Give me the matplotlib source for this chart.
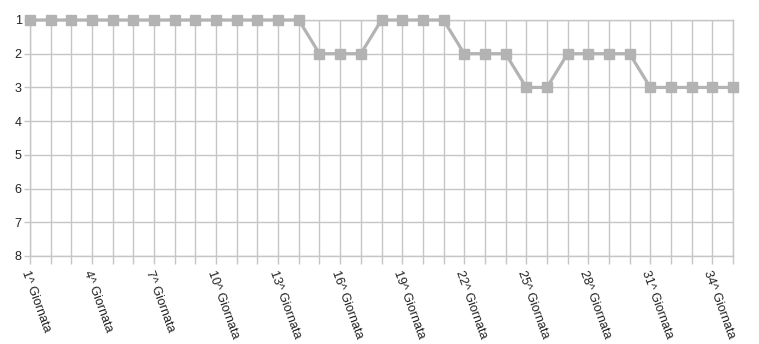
import matplotlib
matplotlib.use("Agg")
import matplotlib.pyplot as plt

giornate = list(range(1, 36))
posizione = [1]*14 + [2, 2, 2] + [1, 1, 1, 1] + [2, 2, 2] + [3, 3] + [2, 2, 2, 2] + [3, 3, 3, 3, 3]
tick_labels = [f"{g}^ Giornata" if (g - 1) % 3 == 0 else "" for g in giornate]
y_ticks = list(range(1, 9))

plt.rcParams['font.family'] = ['Liberation Sans', 'DejaVu Sans']
fig = plt.figure(figsize=(7.59, 3.44), dpi=100)
ax = fig.add_axes([30/759, 1-256/344, (733-30)/759, (256-20)/344])

gc = '#c6c6c6'
ax.plot(giornate, posizione, color='#b3b3b3', lw=2.3, marker='s', ms=7,
        markerfacecolor='#b3b3b3', markeredgecolor='#b3b3b3', zorder=3, clip_on=False)
ax.set_xlim(1, 35)
ax.set_ylim(8, 1)
ax.set_xticks(giornate)
ax.set_xticklabels(tick_labels, rotation=-70, ha='left', va='top', rotation_mode='anchor',
                   fontsize=9, color='#222222')
ax.set_yticks(y_ticks)
ax.set_yticklabels([str(v) for v in y_ticks], fontsize=9, color='#222222')
ax.grid(True, color=gc, lw=1)
ax.tick_params(axis='x', length=6, color=gc, width=1, pad=3)
ax.tick_params(axis='y', length=4, color=gc, width=1, pad=2)
for s in ax.spines.values():
    s.set_color(gc)
    s.set_linewidth(1)
ax.set_axisbelow(True)

fig.savefig('out.png', dpi=100)
